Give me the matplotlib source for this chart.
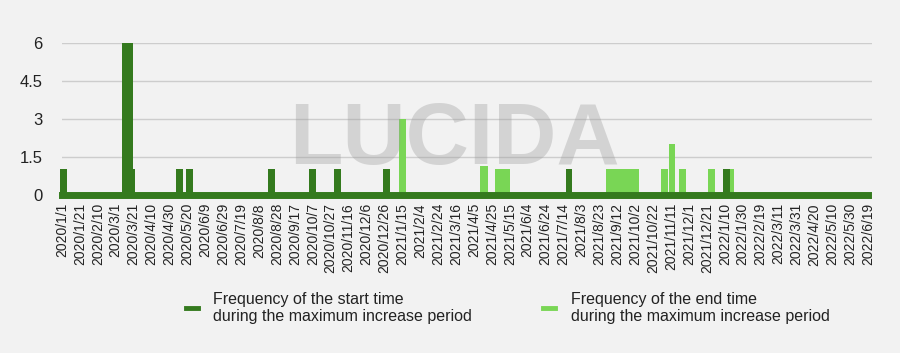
import matplotlib
matplotlib.use('Agg')
import matplotlib.pyplot as plt
import matplotlib.dates as mdates
import pandas as pd
from matplotlib.lines import Line2D

plt.rcParams['font.family'] = ['Liberation Sans', 'DejaVu Sans']

# ---- data ----
range_start = '2020-01-01'
range_end = '2022-06-19'

start_dates = ['2020-01-03', '2020-03-12', '2020-03-17', '2020-03-19', '2020-05-11',
               '2020-05-22', '2020-08-22', '2020-10-07', '2020-11-04', '2020-12-28',
               '2021-07-20', '2022-01-12']
start_counts = [1, 6, 6, 1, 1, 1, 1, 1, 1, 1, 1, 1]

end_dates = ['2021-01-15', '2021-04-15', '2021-04-17', '2021-05-02', '2021-05-07',
             '2021-05-12', '2021-09-03', '2021-09-09', '2021-09-15', '2021-09-21',
             '2021-09-27', '2021-10-03', '2021-11-04', '2021-11-12', '2021-11-24',
             '2021-12-26', '2022-01-17']
end_counts = [3, 1.15, 1.15, 1, 1, 1, 1, 1, 1, 1, 1, 1, 1, 2, 1, 1, 1]

y_ticks = [0, 1.5, 3, 4.5, 6]
y_tick_labels = ['0', '1.5', '3', '4.5', '6']

series_labels = ['Frequency of the start time\nduring the maximum increase period',
                 'Frequency of the end time\nduring the maximum increase period']

dark = '#347a1e'
light = '#79d655'
bg = '#f2f2f2'

# ---- figure ----
fig = plt.figure(figsize=(9, 3.53), dpi=100, facecolor=bg)
ax = fig.add_axes([62 / 900, 1 - 194.7 / 353, 810 / 900, (194.7 - 43.3) / 353])
ax.set_facecolor(bg)

t0 = pd.Timestamp(range_start)
t1 = pd.Timestamp(range_end)
x0 = mdates.date2num(t0)
x1 = mdates.date2num(t1)
ax.set_xlim(x0, x0 + 904.4)
ax.set_ylim(0, 6)

tick_dates = pd.date_range(t0, t1, freq='20D')
ax.set_xticks(mdates.date2num(tick_dates))
ax.set_xticklabels([f'{d.year}/{d.month}/{d.day}' for d in tick_dates],
                   rotation=90, fontsize=10, color='#222222')
ax.set_yticks(y_ticks)
ax.set_yticklabels(y_tick_labels, fontsize=12, color='#222222')
ax.tick_params(axis='both', length=0)
ax.tick_params(axis='x', pad=6)
ax.tick_params(axis='y', pad=14)
for s in ax.spines.values():
    s.set_visible(False)
ax.grid(axis='y', color='#cdcdcd', lw=1)
ax.set_axisbelow(True)

ax.bar(mdates.date2num(pd.to_datetime(end_dates)), end_counts, width=7.5,
       color=light, zorder=2, clip_on=False, linewidth=0)
ax.bar(mdates.date2num(pd.to_datetime(start_dates)), start_counts, width=7.5,
       color=dark, zorder=3, clip_on=False, linewidth=0)
ax.plot([x0, x1], [0, 0], color=dark, lw=5, solid_capstyle='projecting',
        zorder=4, clip_on=False)

fig.text(454 / 900, 1 - 141 / 353, 'LUCIDA', fontsize=63, fontweight='bold',
         color='#9a9a9a', alpha=0.35, ha='center', va='center', zorder=10)

handles = [Line2D([], [], color=dark, lw=3.5), Line2D([], [], color=light, lw=3.5)]
fig.legend(handles, series_labels, loc='center', bbox_to_anchor=(0.5639, 0.1275),
           ncol=2, frameon=False, fontsize=11.5, handlelength=0.75,
           handletextpad=1.0, columnspacing=4.4, labelcolor='#222222')

fig.savefig('out.png', dpi=100, facecolor=bg)
